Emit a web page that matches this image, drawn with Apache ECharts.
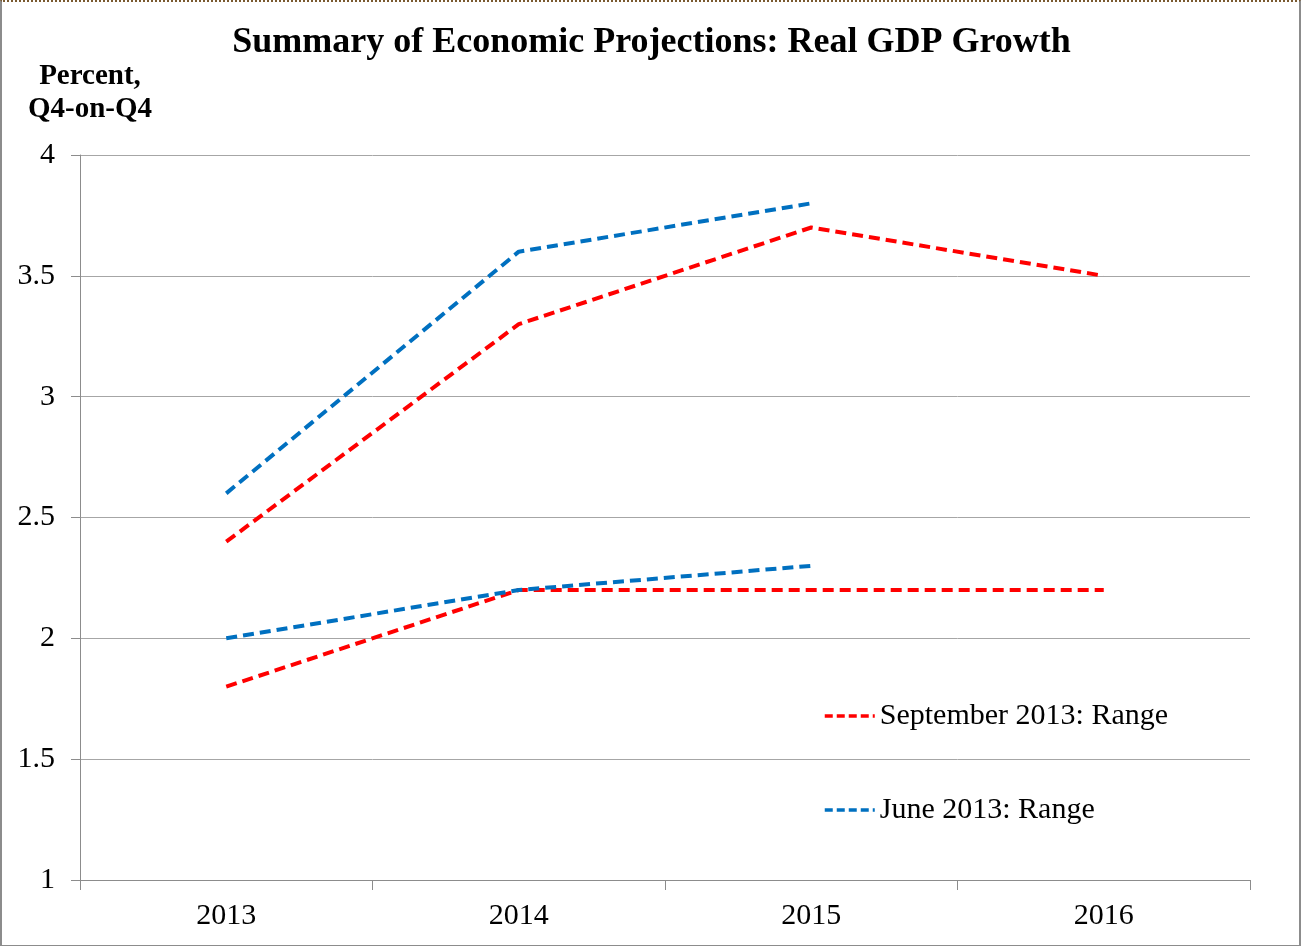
<!DOCTYPE html>
<html><head><meta charset="utf-8">
<script src="https://cdn.jsdelivr.net/npm/echarts@6/dist/echarts.min.js"></script>
<style>
html,body{margin:0;padding:0;background:#fff;}
#frame{position:absolute;left:0;top:0;width:1297px;height:943px;border-left:2px solid #8c8c8c;border-right:2px solid #8c8c8c;border-bottom:2px solid #8c8c8c;border-top:2px dotted #7a5a30;}
#c{position:absolute;left:0;top:0;width:1303px;height:946px;}
</style></head>
<body><div id="frame"></div><div id="c"></div>
<script>
const years = ['2013','2014','2015','2016'];
const sepUpper = [2.4, 3.3, 3.7, 3.5];
const sepLower = [1.8, 2.2, 2.2, 2.2];
const junUpper = [2.6, 3.6, 3.8, null];
const junLower = [2.0, 2.2, 2.3, null];
const sepName = 'September 2013: Range';
const junName = 'June 2013: Range';

const font = '"Liberation Serif","Times New Roman",serif';
const red = '#FF0000', blue = '#0070C0';
function ser(name, data, color){
  return {name, type:'line', data, symbol:'none', connectNulls:false,
    lineStyle:{color, width:4, type:[11,6]}, itemStyle:{color}, z:3};
}
function leg(name, top){
  return {data:[name], orient:'vertical', left:818, top, itemWidth:50, itemHeight:20,
    itemStyle:{opacity:0}, lineStyle:{width:3.5, type:[8,4]},
    textStyle:{fontFamily:font, fontSize:30, color:'#000'}};
}
const chart = echarts.init(document.getElementById('c'), null, {renderer:'canvas'});
chart.setOption({
  backgroundColor:'transparent',
  animation:false,
  title:{text:'Summary of Economic Projections: Real GDP Growth', left:'center', top:20,
    textStyle:{fontFamily:font, fontWeight:'bold', fontSize:36, color:'#000'}},
  grid:{left:80, right:53, top:155, bottom:66, containLabel:false},
  legend:[leg(sepName, 696), leg(junName, 790)],
  xAxis:{type:'category', data:years, boundaryGap:true,
    axisLine:{lineStyle:{color:'#8c8c8c', width:1}},
    axisTick:{show:true, length:10, lineStyle:{color:'#8c8c8c'}},
    axisLabel:{fontFamily:font, fontSize:30, color:'#000', margin:21}},
  yAxis:{type:'value', min:1, max:4, interval:0.5,
    name:'Percent,\nQ4-on-Q4', nameLocation:'end', nameGap:29,
    nameTextStyle:{fontFamily:font, fontWeight:'bold', fontSize:29, color:'#000', align:'center', lineHeight:33, padding:[0,0,0,20]},
    axisLine:{show:true, lineStyle:{color:'#8c8c8c'}},
    axisTick:{show:true, length:9, lineStyle:{color:'#8c8c8c'}},
    splitLine:{lineStyle:{color:'#a6a6a6', width:1}},
    axisLabel:{fontFamily:font, fontSize:30, color:'#000', margin:25,
      formatter:v=>String(v)}},
  series:[
    ser(sepName, sepUpper, red), ser(sepName, sepLower, red),
    ser(junName, junUpper, blue), ser(junName, junLower, blue)
  ]
});
</script></body></html>
